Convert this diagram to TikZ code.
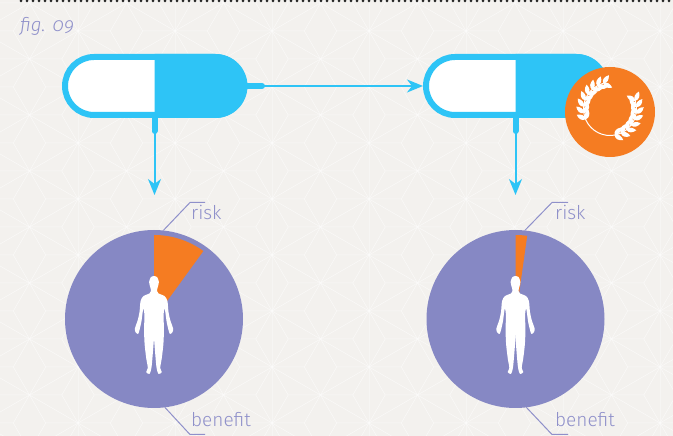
\documentclass[tikz,border=0pt]{standalone}
\usepackage{fontspec}
\setmainfont{Fira Sans Light}[Numbers=OldStyle]
\usetikzlibrary{arrows.meta,shapes.misc}

\definecolor{paper}{HTML}{F3F1EE}
\definecolor{pillblue}{HTML}{2EC4F6}
\definecolor{riskorange}{HTML}{F57C22}
\definecolor{piepurple}{HTML}{8688C4}
\definecolor{textpurple}{HTML}{8F90CA}

\tikzset{
    pill/.style={rounded rectangle, draw=pillblue, fill=white, line width=6pt, minimum width=179pt, minimum height=58pt, inner sep=0pt},
    pie/.style={circle, fill=piepurple, minimum size=178pt, inner sep=0pt, outer sep=0pt},
    stub/.style={pillblue, line width=6pt, line cap=round},
    flow/.style={draw=pillblue, line width=2pt, -{Stealth[length=16pt,width=13pt,inset=5pt]}},
    leader/.style={textpurple, line width=1pt},
    tag/.style={textpurple, font=\fontsize{19}{19}\selectfont, anchor=base west, inner sep=0pt},
    pattern line/.style={white, opacity=0.6, line width=0.5pt},
    pattern upright/.style={white, opacity=0.3, line width=0.5pt}
}

% one half of the blue capsule body
\newcommand{\halfpill}[1]{\fill[pillblue] (#1.north) -- ++(61,0) arc[start angle=90, end angle=-90, radius=32] -- (#1.south) -- cycle;}

% white body, x is the middle of the figure
\newcommand{\bodyshape}[1]{\foreach \side in {1,-1}
    \fill[white, shift={(#1,160)}, xscale=\side, yscale=-1] plot[smooth, tension=0.5] coordinates {(-0.4,0) (3,1) (4.9,6) (3.8,11) (3,15) (4.5,17.5) (10.5,20) (13.4,25) (14.5,36) (16.5,45) (19,52) (18.6,56) (16,58) (14.5,54) (12.5,45) (10.8,33) (9.6,38) (9.9,54) (9.4,68) (7.8,82) (6.2,92) (7.8,96) (4.5,98) (2.6,92) (1.4,80) (-0.4,57)} -- cycle;}

\newcommand{\laurelleaf}[2]{\fill[white, shift={(#1:26.5)}, rotate=#2] (0,0) .. controls (2.5,3.4) and (6.5,2.8) .. (10,0) .. controls (6.5,-2.8) and (2.5,-3.4) .. (0,0);}

\begin{document}
\begin{tikzpicture}[x=1pt, y=1pt]

    \useasboundingbox (0,0) rectangle (673,436);
    \fill[paper] (0,0) rectangle (673,436);

    % Faint star pattern of the paper
    \begin{scope}
        \clip (0,0) rectangle (673,436);
        \foreach \i in {0,...,15} {
            \foreach \j in {0,...,9} {
                \pgfmathsetmacro{\colx}{-19+48.5*\i}
                \pgfmathsetmacro{\rowy}{-43+56*\j+28*mod(\i,2)}
                \begin{scope}[shift={(\colx,\rowy)}]
                    \draw[pattern line] (0,0) -- (48.5,28);
                    \draw[pattern line] (0,0) -- (48.5,-28);
                    \draw[pattern line] (0,0) -- (16.2,28) -- (48.5,28);
                    \draw[pattern line] (16.2,28) -- (0,56);
                    \draw[pattern line] (0,0) -- (32.3,0) -- (48.5,28);
                    \draw[pattern line] (32.3,0) -- (48.5,-28);
                    \pgfmathparse{int(mod(\i,2))}
                    \ifnum\pgfmathresult=0
                        \draw[pattern upright] (0,0) -- (0,56);
                    \fi
                \end{scope}
            }
        }
    \end{scope}

    % Dotted rule and figure number
    \draw[black!85, line width=3pt, line cap=round, dash pattern=on 0pt off 6pt] (21,435) -- (673,435);
    \node[tag, font=\fontsize{19}{19}\selectfont\itshape] (figNumber) at (20,404) {fig. 09};

    % Capsules
    \node[pill] (pillA) at (154.5,350) {};
    \node[pill] (pillB) at (515.5,350) {};
    \halfpill{pillA}
    \halfpill{pillB}

    % Targets of the down arrows
    \coordinate (tipA) at (154.5,241);
    \coordinate (tipB) at (515.5,241);

    % Connectors
    \draw[stub] (pillA.east) -- ++(15,0);
    \draw[stub] (pillA.south) -- ++(0,-13);
    \draw[stub] (pillB.south) -- ++(0,-13);
    \draw[flow] (pillA.east) -- (pillB.west);
    \draw[flow] (pillA.south) -- (tipA);
    \draw[flow] (pillB.south) -- (tipB);

    % Medal on the second capsule
    \node[circle, fill=riskorange, minimum size=90pt, inner sep=0pt] (medal) at (610,324) {};
    \begin{scope}[shift={(610,327)}]
        \draw[white, line width=1pt] (105:26.5) arc[start angle=105, end angle=272, radius=26.5];
        \draw[white, line width=1pt] (272:26.5) arc[start angle=272, end angle=382, radius=26.5];
        \foreach \ang in {105,119,...,216} {
            \laurelleaf{\ang}{\ang-50}
            \laurelleaf{\ang}{\ang-130}
        }
        \foreach \ang in {280,294,...,382} {
            \laurelleaf{\ang}{\ang+50}
            \laurelleaf{\ang}{\ang+130}
        }
    \end{scope}

    % Pies
    \node[pie] (pieA) at (154,117) {};
    \node[pie] (pieB) at (515.5,117) {};
    \fill[riskorange] (pieA.center) -- ++(90:84) arc[start angle=90, end angle=54, radius=84] -- cycle;
    \fill[riskorange] (pieB.center) -- ++(90:84) arc[start angle=90, end angle=82, radius=84] -- cycle;
    \bodyshape{154}
    \bodyshape{515.5}

    % Labels of the pies
    \node[tag] (riskA) at (191,216) {risk};
    \node[tag] (benefitA) at (191,9) {benefit};
    \node[tag] (riskB) at (555,216) {risk};
    \node[tag] (benefitB) at (555,9) {benefit};

    \coordinate (kneeRiskA) at (190,233.5);
    \coordinate (endRiskA) at (205,233.5);
    \coordinate (kneeBenefitA) at (190,1.5);
    \coordinate (endBenefitA) at (205,1.5);
    \coordinate (kneeRiskB) at (552,233.5);
    \coordinate (endRiskB) at (568,233.5);
    \coordinate (kneeBenefitB) at (552,1.5);
    \coordinate (endBenefitB) at (568,1.5);

    \draw[leader] (pieA.84) -- (kneeRiskA) -- (endRiskA);
    \draw[leader] (pieA.-83) -- (kneeBenefitA) -- (endBenefitA);
    \draw[leader] (pieB.84) -- (kneeRiskB) -- (endRiskB);
    \draw[leader] (pieB.-83) -- (kneeBenefitB) -- (endBenefitB);

\end{tikzpicture}
\end{document}
